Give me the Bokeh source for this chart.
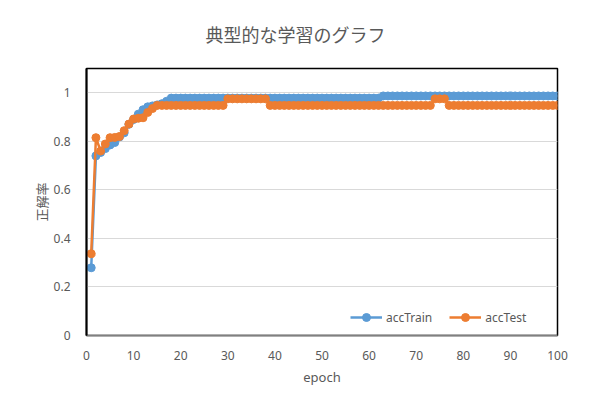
from bokeh.plotting import figure
from bokeh.models import (ColumnDataSource, FixedTicker, NumeralTickFormatter,
                          Legend, LegendItem, Title)
from bokeh.embed import file_html
from bokeh.resources import INLINE

epochs = list(range(1, 101))

acc_train = [
    0.279, 0.740, 0.754, 0.770, 0.785, 0.795, 0.818, 0.835, 0.870, 0.890,
    0.912, 0.930, 0.942, 0.946, 0.950, 0.955, 0.965, 0.978, 0.978, 0.978,
    0.978, 0.978, 0.978, 0.978, 0.978, 0.978, 0.978, 0.978, 0.978, 0.978,
    0.978, 0.978, 0.978, 0.978, 0.978, 0.978, 0.978, 0.978, 0.978, 0.978,
    0.978, 0.978, 0.978, 0.978, 0.978, 0.978, 0.978, 0.978, 0.978, 0.978,
    0.978, 0.978, 0.978, 0.978, 0.978, 0.978, 0.978, 0.978, 0.978, 0.978,
    0.978, 0.978, 0.987, 0.987, 0.987, 0.987, 0.987, 0.987, 0.987, 0.987,
    0.987, 0.987, 0.987, 0.987, 0.987, 0.987, 0.987, 0.987, 0.987, 0.987,
    0.987, 0.987, 0.987, 0.987, 0.987, 0.987, 0.987, 0.987, 0.987, 0.987,
    0.987, 0.987, 0.987, 0.987, 0.987, 0.987, 0.987, 0.987, 0.987, 0.987,
]

acc_test = [
    0.337, 0.815, 0.760, 0.789, 0.815, 0.816, 0.820, 0.844, 0.871, 0.892,
    0.895, 0.897, 0.919, 0.935, 0.948, 0.948, 0.948, 0.948, 0.948, 0.948,
    0.948, 0.948, 0.948, 0.948, 0.948, 0.948, 0.948, 0.948, 0.948, 0.975,
    0.975, 0.975, 0.975, 0.975, 0.975, 0.975, 0.975, 0.975, 0.948, 0.948,
    0.948, 0.948, 0.948, 0.948, 0.948, 0.948, 0.948, 0.948, 0.948, 0.948,
    0.948, 0.948, 0.948, 0.948, 0.948, 0.948, 0.948, 0.948, 0.948, 0.948,
    0.948, 0.948, 0.948, 0.948, 0.948, 0.948, 0.948, 0.948, 0.948, 0.948,
    0.948, 0.948, 0.948, 0.975, 0.975, 0.975, 0.948, 0.948, 0.948, 0.948,
    0.948, 0.948, 0.948, 0.948, 0.948, 0.948, 0.948, 0.948, 0.948, 0.948,
    0.948, 0.948, 0.948, 0.948, 0.948, 0.948, 0.948, 0.948, 0.948, 0.948,
]

x_ticks = [0, 10, 20, 30, 40, 50, 60, 70, 80, 90, 100]
y_ticks = [0, 0.2, 0.4, 0.6, 0.8, 1.0]

title_text = "典型的な学習のグラフ"
x_label = "epoch"
y_label = "正解率"

blue = "#5B9BD5"
orange = "#ED7D31"
grey_text = "#595959"
jp_font = "Noto Sans CJK JP"
num_font = "Noto Sans"

src = ColumnDataSource(data=dict(epoch=epochs, train=acc_train, test=acc_test))

p = figure(
    width=585,
    height=395,
    x_range=(0, 100),
    y_range=(0, 1.1),
    min_border_left=86,
    min_border_right=28,
    min_border_top=68,
    min_border_bottom=60,
    toolbar_location=None,
    output_backend="svg")

# title: left aligned with an offset so it sits over the middle of the canvas
p.title = Title(text=title_text, align="left", offset=119, standoff=39,
                vertical_align="top",
                text_font=jp_font, text_font_size="18px",
                text_font_style="normal", text_color=grey_text)

p.outline_line_color = "black"
p.outline_line_width = 1.5
p.xgrid.grid_line_color = None
p.ygrid.grid_line_color = "#d9d9d9"
p.ygrid.grid_line_width = 1

p.xaxis.ticker = FixedTicker(ticks=x_ticks)
p.yaxis.ticker = FixedTicker(ticks=y_ticks)
p.yaxis.formatter = NumeralTickFormatter(format="0.[0]")

for ax in (p.xaxis[0], p.yaxis[0]):
    ax.major_tick_line_color = None
    ax.minor_tick_line_color = None
    ax.major_label_text_font = num_font
    ax.major_label_text_font_size = "12px"
    ax.major_label_text_color = grey_text
    ax.axis_label_text_font_style = "normal"
    ax.axis_label_text_color = grey_text

p.xaxis.axis_line_color = "#808080"
p.xaxis.axis_line_width = 1.5
p.yaxis.axis_line_color = "black"
p.yaxis.axis_line_width = 2

p.xaxis.axis_label = x_label
p.xaxis.axis_label_text_font = num_font
p.xaxis.axis_label_text_font_size = "13px"
p.xaxis.major_label_standoff = 9
p.xaxis.axis_label_standoff = 5

p.yaxis.axis_label = y_label
p.yaxis.axis_label_text_font = jp_font
p.yaxis.axis_label_text_font_size = "13px"
p.yaxis.major_label_standoff = 10
p.yaxis.axis_label_standoff = 0

tr_line = p.line("epoch", "train", source=src, line_color=blue, line_width=2.5)
tr_dots = p.scatter("epoch", "train", source=src, size=8, color=blue)
te_line = p.line("epoch", "test", source=src, line_color=orange, line_width=2.5)
te_dots = p.scatter("epoch", "test", source=src, size=8, color=orange)

legend = Legend(
    items=[LegendItem(label="accTrain", renderers=[tr_line, tr_dots]),
           LegendItem(label="accTest", renderers=[te_line, te_dots])],
    orientation="horizontal",
    location=(264, 8),
    padding=0,
    margin=0,
    spacing=17,
    glyph_width=32,
    glyph_height=20,
    label_height=20,
    label_standoff=4,
    label_text_font=num_font,
    label_text_font_size="12px",
    label_text_color=grey_text,
    border_line_color=None,
    background_fill_alpha=0)
p.add_layout(legend)

open("out.html", "w").write(file_html(p, INLINE))
